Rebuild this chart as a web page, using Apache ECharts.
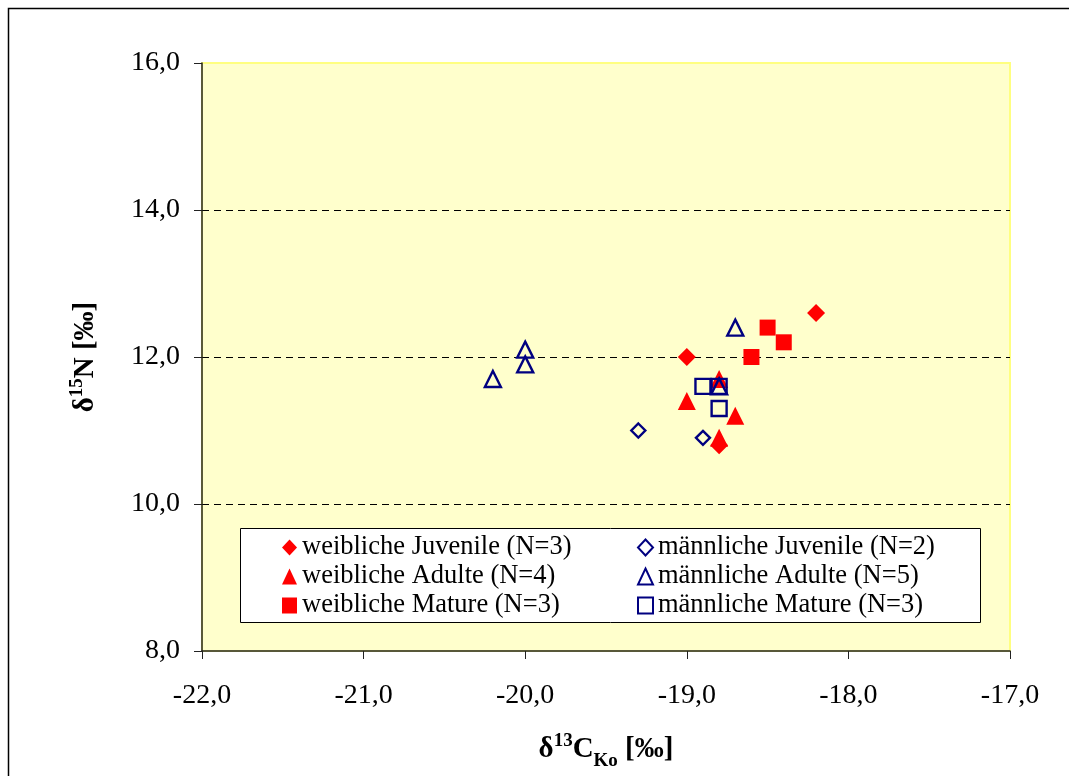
<!DOCTYPE html>
<html><head><meta charset="utf-8">
<script src="https://cdn.jsdelivr.net/npm/echarts@6/dist/echarts.min.js"></script>
<style>html,body{margin:0;padding:0;background:#fff}#c{width:1069px;height:776px}</style>
</head><body><div id="c"></div>
<script>
const seriesNames = ['weibliche Juvenile (N=3)','weibliche Adulte (N=4)','weibliche Mature (N=3)','männliche Juvenile (N=2)','männliche Adulte (N=5)','männliche Mature (N=3)'];
const wJuvenile = [[-19.0,12.0],[-18.2,12.6],[-18.8,10.8]];
const wAdulte = [[-19.0,11.4],[-18.8,11.7],[-18.7,11.2],[-18.8,10.9]];
const wMature = [[-18.5,12.4],[-18.4,12.2],[-18.6,12.0]];
const mJuvenile = [[-19.3,11.0],[-18.9,10.9]];
const mAdulte = [[-20.2,11.7],[-20.0,12.1],[-20.0,11.9],[-18.7,12.4],[-18.8,11.6]];
const mMature = [[-18.9,11.6],[-18.8,11.6],[-18.8,11.3]];
const xTicks = [-22,-21,-20,-19,-18,-17];
const yTicks = [8,10,12,14,16];

const FONT = '"Liberation Serif","Times New Roman",serif';
const fmt = v => v.toFixed(1).replace('.', ',');
const RED = '#FF0000', BLUE = '#000080';
const datasets = [wJuvenile,wAdulte,wMature,mJuvenile,mAdulte,mMature];
const symbols = ['diamond','triangle','rect','diamond','triangle','rect'];
const sizes = [18,18,16,14,16,15];

const series = datasets.map((d,i) => {
  const filled = i < 3;
  return {
    name: seriesNames[i], type: 'scatter', data: d,
    symbol: symbols[i], symbolSize: sizes[i],
    itemStyle: filled ? {color: RED, borderColor: RED, borderWidth: 0, opacity: 1}
                      : {color: 'rgba(0,0,0,0)', borderColor: BLUE, borderWidth: 2.4, opacity: 1},
    emphasis: {disabled: true}, z: filled ? 2 : 3
  };
});

const chart = echarts.init(document.getElementById('c'));
const legendCommon = {
  orient: 'vertical', itemGap: 2, itemWidth: 15, itemHeight: 16,
  textStyle: {fontFamily: FONT, fontSize: 26.5, color: '#000'},
  selectedMode: false, backgroundColor: 'transparent', padding: 0
};
chart.setOption({
  animation: false,
  backgroundColor: '#fff',
  textStyle: {fontFamily: FONT},
  grid: {left: 202, right: 59, top: 63, bottom: 121, show: true, backgroundColor: '#FFFFCC', borderColor: '#FFFF80', borderWidth: 2},
  graphic: [
    {type: 'rect', left: 6, top: 6, shape: {width: 1080, height: 790}, style: {fill: 'none', stroke: '#000', lineWidth: 1.5}, silent: true, z: 0},
    {type: 'rect', left: 240, top: 528, shape: {width: 740, height: 94}, style: {fill: '#fff', stroke: '#000', lineWidth: 1}, silent: true, z: 5}
  ],
  legend: [
    Object.assign({}, legendCommon, {data: seriesNames.slice(0,3), left: 282, top: 534, z: 10}),
    Object.assign({}, legendCommon, {data: seriesNames.slice(3), left: 637, top: 534, z: 10})
  ],
  xAxis: {
    type: 'value', min: -22, max: -17, interval: 1,
    axisLine: {onZero: false, lineStyle: {color: '#222', width: 1.5}},
    axisTick: {show: true, inside: false, length: 8, lineStyle: {color: '#222'}},
    axisLabel: {formatter: fmt, fontFamily: FONT, fontSize: 28, color: '#000', margin: 31},
    splitLine: {show: false},
    name: '{d|δ}{sup|13}{d|C}{sub|Ko}{d| [‰]}', nameLocation: 'middle', nameGap: 81,
    nameTextStyle: {rich: {
      d: {fontFamily: FONT, fontSize: 29, fontWeight: 'bold', color: '#000', lineHeight: 32, verticalAlign: 'bottom'},
      sup: {fontFamily: FONT, fontSize: 19, fontWeight: 'bold', color: '#000', lineHeight: 32, verticalAlign: 'top'},
      sub: {fontFamily: FONT, fontSize: 19, fontWeight: 'bold', color: '#000', lineHeight: 24, verticalAlign: 'bottom', padding: [0,0,-7,0]}
    }}
  },
  yAxis: {
    type: 'value', min: 8, max: 16, interval: 2,
    axisLine: {show: true, onZero: false, lineStyle: {color: '#222', width: 1.5}},
    axisTick: {show: true, inside: false, length: 8, lineStyle: {color: '#222'}},
    axisLabel: {formatter: fmt, fontFamily: FONT, fontSize: 28, color: '#000', margin: 22},
    splitLine: {show: true, showMinLine: false, showMaxLine: false, lineStyle: {color: '#000', type: [7,5], width: 1}},
    name: '{d|δ}{sup|15}{d|N [‰]}', nameLocation: 'middle', nameGap: 102, nameRotate: 90,
    nameTextStyle: {rich: {
      d: {fontFamily: FONT, fontSize: 29, fontWeight: 'bold', color: '#000', lineHeight: 32, verticalAlign: 'bottom'},
      sup: {fontFamily: FONT, fontSize: 19, fontWeight: 'bold', color: '#000', lineHeight: 32, verticalAlign: 'top'}
    }}
  },
  series: series
});
</script></body></html>
